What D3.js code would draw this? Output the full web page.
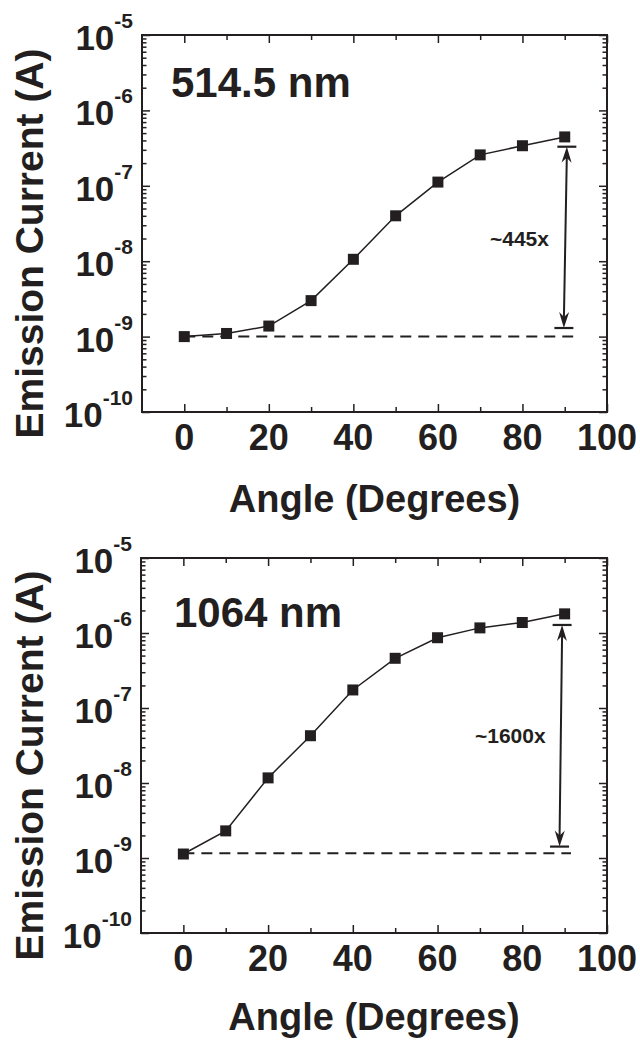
<!DOCTYPE html>
<html lang="en">
<head>
  <meta charset="UTF-8">
  <title>Emission Current vs Angle</title>
  <script src="https://d3js.org/d3.v7.min.js"></script>
  <style>
    body {
      margin: 0;
      background: #fff;
      font-family: "Liberation Sans", Arial, sans-serif;
    }
    text {
      font-weight: bold;
      fill: #231f20;
    }
    .data-line {
      fill: none;
      stroke: #231f20;
      stroke-width: 1.5px;
    }
  </style>
</head>
<body>
  <svg width="640" height="1040"></svg>

  <script>
    // data
    const angles = [0, 10, 20, 30, 40, 50, 60, 70, 80, 90];
    const current514 = [1.0e-9, 1.1e-9, 1.38e-9, 3.0e-9, 1.06e-8, 4.0e-8, 1.12e-7, 2.57e-7, 3.4e-7, 4.45e-7];
    const current1064 = [1.13e-9, 2.3e-9, 1.17e-8, 4.27e-8, 1.74e-7, 4.6e-7, 8.65e-7, 1.17e-6, 1.38e-6, 1.8e-6];

    const xMajorTicks = [0, 20, 40, 60, 80, 100];
    const xMinorTicks = [10, 30, 50, 70, 90];
    const yDecades = [-10, -9, -8, -7, -6, -5];

    // dashed reference level [value, x start, x end]
    const base514 = [1.0e-9, 0, 92];
    const base1064 = [1.16e-9, 0, 91.5];
    // double arrow [x top, value top, x bottom, value bottom]
    const arrow514 = [90.5, 3.3e-7, 89.8, 1.3e-9];
    const arrow1064 = [89.4, 1.28e-6, 88.8, 1.42e-9];

    const svg = d3.select("svg");
    const ink = "#231f20";

    function drawPanel(p) {
      const x = d3.scaleLinear().domain([-10, 100]).range([p.left, p.right]);
      const y = d3.scaleLog().domain([1e-10, 1e-5]).range([p.bottom, p.top]);
      const g = svg.append("g");

      const decadeVals = yDecades.map(e => Math.pow(10, e));
      const minorVals = [];
      yDecades.slice(0, -1).forEach(e => {
        for (let k = 2; k <= 9; k++) minorVals.push(k * Math.pow(10, e));
      });

      // ticks (inward on all four sides)
      const tickAxes = [
        [d3.axisBottom(x).tickValues(xMajorTicks).tickSize(-8), `translate(0,${p.bottom})`],
        [d3.axisBottom(x).tickValues(xMinorTicks).tickSize(-5), `translate(0,${p.bottom})`],
        [d3.axisTop(x).tickValues(xMajorTicks).tickSize(-8), `translate(0,${p.top})`],
        [d3.axisTop(x).tickValues(xMinorTicks).tickSize(-5), `translate(0,${p.top})`],
        [d3.axisLeft(y).tickValues(decadeVals).tickSize(-8), `translate(${p.left},0)`],
        [d3.axisLeft(y).tickValues(minorVals).tickSize(-4.5), `translate(${p.left},0)`],
        [d3.axisRight(y).tickValues(decadeVals).tickSize(-8), `translate(${p.right},0)`],
        [d3.axisRight(y).tickValues(minorVals).tickSize(-4.5), `translate(${p.right},0)`]
      ];
      tickAxes.forEach(([axis, tr]) => {
        const a = g.append("g").attr("transform", tr).call(axis.tickFormat(""));
        a.select(".domain").remove();
        a.selectAll(".tick line").attr("stroke", ink).attr("stroke-width", 1.5);
      });

      // frame
      g.append("rect")
        .attr("x", p.left).attr("y", p.top)
        .attr("width", p.right - p.left).attr("height", p.bottom - p.top)
        .attr("fill", "none").attr("stroke", ink).attr("stroke-width", 2);

      // x tick labels
      g.selectAll(".xlab").data(xMajorTicks).join("text")
        .attr("x", d => x(d)).attr("y", p.bottom + 38)
        .attr("text-anchor", "middle").attr("font-size", 36)
        .text(d => d);

      // y tick labels 10^n
      const yl = g.selectAll(".ylab").data(yDecades).join("text")
        .attr("x", p.left - 9).attr("y", d => y(Math.pow(10, d)) + 15)
        .attr("text-anchor", "end").attr("font-size", 35);
      yl.append("tspan").text("10");
      yl.append("tspan").attr("dy", -22).attr("font-size", 21).text(d => `${d}`);

      // axis titles
      g.append("text")
        .attr("x", (p.left + p.right) / 2).attr("y", p.bottom + p.xTitleOff)
        .attr("text-anchor", "middle").attr("font-size", 38)
        .text("Angle (Degrees)");
      g.append("text")
        .attr("transform", `translate(43,${(p.top + p.bottom) / 2 + 20}) rotate(-90)`)
        .attr("text-anchor", "middle").attr("font-size", 39)
        .text("Emission Current (A)");

      // panel title
      g.append("text")
        .attr("x", p.titleX).attr("y", p.titleY)
        .attr("font-size", 42)
        .text(p.title);

      // dashed baseline
      g.append("line")
        .attr("x1", x(p.base[1])).attr("x2", x(p.base[2]))
        .attr("y1", y(p.base[0])).attr("y2", y(p.base[0]))
        .attr("stroke", ink).attr("stroke-width", 2)
        .attr("stroke-dasharray", "11,7");

      // data line + square markers
      const pts = angles.map((a, i) => [a, p.values[i]]);
      g.append("path")
        .attr("class", "data-line")
        .attr("d", d3.line().x(d => x(d[0])).y(d => y(d[1]))(pts));
      g.selectAll(".pt").data(pts).join("rect")
        .attr("x", d => x(d[0]) - 5.5).attr("y", d => y(d[1]) - 5.5)
        .attr("width", 11).attr("height", 11)
        .attr("fill", ink);

      // double arrow with end bars
      const [xa, va, xb, vb] = p.arrow;
      const x1 = x(xa), y1 = y(va), x2 = x(xb), y2 = y(vb);
      const ang = Math.atan2(y2 - y1, x2 - x1);
      g.append("line")
        .attr("x1", x1).attr("y1", y1 + 8).attr("x2", x2).attr("y2", y2 - 8)
        .attr("stroke", ink).attr("stroke-width", 2);
      [[x1, y1, ang + Math.PI], [x2, y2, ang]].forEach(([hx, hy, a]) => {
        // head points toward bar
        const deg = a * 180 / Math.PI;
        g.append("path")
          .attr("transform", `translate(${hx},${hy}) rotate(${deg})`)
          .attr("d", "M0,0 L-16,-5 L-11,0 L-16,5 Z")
          .attr("fill", ink);
        g.append("line")
          .attr("x1", hx - 9.5).attr("x2", hx + 9.5)
          .attr("y1", hy).attr("y2", hy)
          .attr("stroke", ink).attr("stroke-width", 2.2);
      });
      g.append("text")
        .attr("x", p.noteX).attr("y", p.noteY)
        .attr("font-size", 21)
        .text(p.note);
    }

    drawPanel({
      left: 142, right: 607, top: 35, bottom: 412,
      values: current514, base: base514, arrow: arrow514,
      title: "514.5 nm", titleX: 171, titleY: 97,
      note: "~445x", noteX: 490, noteY: 246,
      xTitleOff: 100
    });

    drawPanel({
      left: 141, right: 607, top: 558, bottom: 933,
      values: current1064, base: base1064, arrow: arrow1064,
      title: "1064 nm", titleX: 174, titleY: 627,
      note: "~1600x", noteX: 475, noteY: 743,
      xTitleOff: 97
    });
  </script>
</body>
</html>
